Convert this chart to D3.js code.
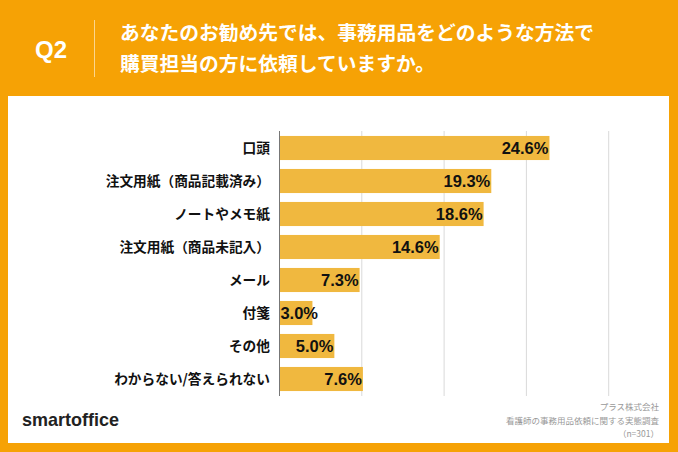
<!DOCTYPE html>
<html><head><meta charset="utf-8">
<script src="https://cdn.jsdelivr.net/npm/d3@7"></script>
<style>html,body{margin:0;padding:0;background:#f6a205}svg{display:block}</style>
</head><body><svg id="c" width="678" height="452"></svg>
<script>
const categories=["口頭","注文用紙（商品記載済み）","ノートやメモ紙","注文用紙（商品未記入）","メール","付箋","その他","わからない/答えられない"];
const values=[24.6,19.3,18.6,14.6,7.3,3.0,5.0,7.6];
const gridTicks=[0,7.5,15,22.5,30];
const titleLines=["あなたのお勧め先では、事務用品をどのような方法で","購買担当の方に依頼していますか。"];
const noteLines=["プラス株式会社","看護師の事務用品依頼に関する実態調査","（n=301）"];
const jp='"Noto Sans CJK JP","Noto Sans",sans-serif';
const lat='"Liberation Sans",sans-serif';
const svg=d3.select("#c");
svg.append("rect").attr("width",678).attr("height",452).attr("fill","#f6a205");
svg.append("rect").attr("x",8).attr("y",96).attr("width",661).attr("height",347).attr("fill","#fff");
svg.append("text").attr("x",51).attr("y",58).attr("text-anchor","middle").attr("fill","#fff").attr("font-family",lat).attr("font-weight",700).attr("font-size",24).text("Q2");
svg.append("line").attr("x1",94.5).attr("x2",94.5).attr("y1",20).attr("y2",77).attr("stroke","#fff").attr("stroke-opacity",.55);
svg.selectAll("text.t").data(titleLines).join("text").attr("class","t").attr("x",120).attr("y",(d,i)=>[40,71][i]).attr("fill","#fff").attr("font-family",jp).attr("font-weight",700).attr("font-size",19.75).text(d=>d);
const x=d3.scaleLinear().domain([0,30]).range([279.5,608.7]);
const y=d3.scaleBand().domain(categories).range([131.5,395.5]).paddingInner(.27).paddingOuter(.135);
svg.append("g").selectAll("line").data(gridTicks).join("line").attr("x1",d=>x(d)).attr("x2",d=>x(d)).attr("y1",131).attr("y2",396).attr("stroke",d=>d===0?"#777":"#d9d9d9").attr("stroke-width",1);
svg.append("g").selectAll("rect").data(values).join("rect").attr("x",x(0)+.5).attr("y",(d,i)=>y(categories[i])).attr("width",d=>x(d)-x(0)-.5).attr("height",y.bandwidth()).attr("fill","#f0b83f");
svg.append("g").selectAll("text").data(categories).join("text").attr("x",270).attr("y",d=>y(d)+y.bandwidth()/2).attr("dy",".36em").attr("text-anchor","end").attr("fill","#111").attr("font-family",jp).attr("font-weight",700).attr("font-size",13.7).text(d=>d);
svg.append("g").selectAll("text").data(values).join("text").attr("x",d=>Math.max(x(d)-1,318)).attr("y",(d,i)=>y(categories[i])+y.bandwidth()/2).attr("dy",".36em").attr("text-anchor","end").attr("fill","#111").attr("font-family",lat).attr("font-weight",700).attr("font-size",16.5).text(d=>d.toFixed(1)+"%");
svg.append("text").attr("x",22).attr("y",426).attr("fill","#222").attr("font-family",lat).attr("font-weight",700).attr("font-size",19).attr("textLength",97).attr("lengthAdjust","spacingAndGlyphs").text("smartoffice");
svg.append("g").selectAll("text").data(noteLines).join("text").attr("x",659).attr("y",(d,i)=>410+i*13.5).attr("text-anchor","end").attr("fill","#999").attr("font-family",jp).attr("font-size",8.5).text(d=>d);
</script></body></html>
